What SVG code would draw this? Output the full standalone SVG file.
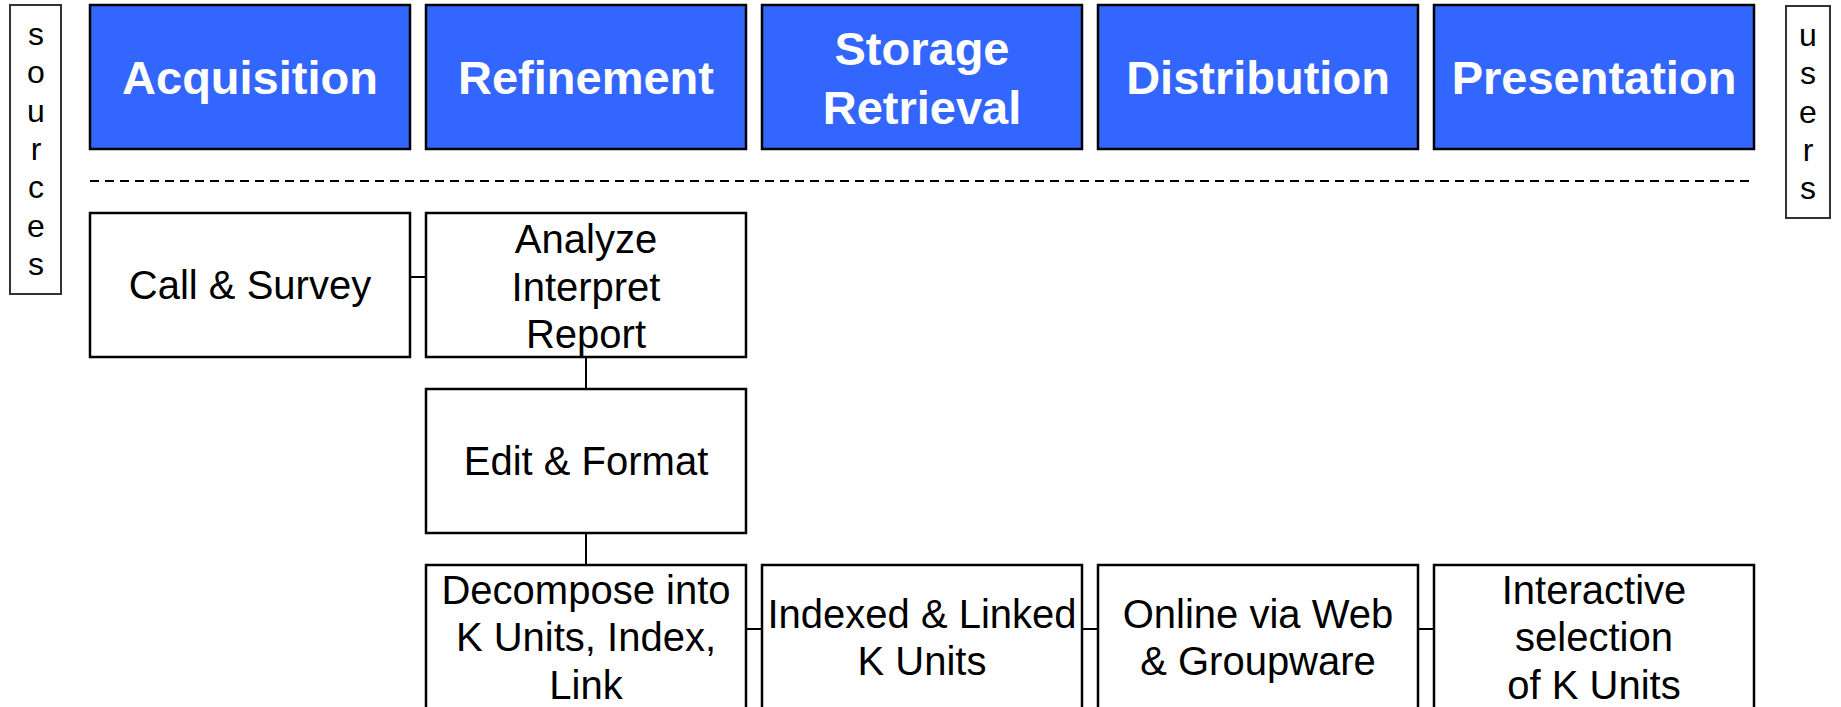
<svg xmlns="http://www.w3.org/2000/svg" width="1841" height="707" viewBox="0 0 1841 707">
<style>
.hdr{fill:#3366FF;stroke:#000;stroke-width:2.5}
.box{fill:#fff;stroke:#000;stroke-width:2.5}
.side{fill:#fff;stroke:#333;stroke-width:2}
.ht{font-family:"Liberation Sans",Arial,sans-serif;font-weight:bold;font-size:47px;fill:#fff;text-anchor:middle}
.bt{font-family:"Liberation Sans",Arial,sans-serif;font-size:40px;fill:#000;text-anchor:middle}
.st{font-family:"Liberation Sans",Arial,sans-serif;font-size:32px;fill:#000;text-anchor:middle}
.conn{stroke:#000;stroke-width:2;fill:none}
</style>
<rect width="1841" height="707" fill="#fff"/>
<g id="sources">
<rect class="side" x="10" y="5" width="51" height="289"/>
<text class="st"><tspan x="36" y="45">s</tspan><tspan x="36" y="83.3">o</tspan><tspan x="36" y="121.6">u</tspan><tspan x="36" y="159.9">r</tspan><tspan x="36" y="198.2">c</tspan><tspan x="36" y="236.5">e</tspan><tspan x="36" y="274.8">s</tspan></text>
</g>
<g id="users">
<rect class="side" x="1786" y="6" width="44" height="212"/>
<text class="st"><tspan x="1808" y="46">u</tspan><tspan x="1808" y="84.3">s</tspan><tspan x="1808" y="122.6">e</tspan><tspan x="1808" y="160.9">r</tspan><tspan x="1808" y="199.2">s</tspan></text>
</g>
<g id="acquisition">
<rect class="hdr" x="90" y="5" width="320" height="144"/>
<text class="ht" x="250" y="94">Acquisition</text>
</g>
<g id="refinement">
<rect class="hdr" x="426" y="5" width="320" height="144"/>
<text class="ht" x="586" y="94">Refinement</text>
</g>
<g id="storage">
<rect class="hdr" x="762" y="5" width="320" height="144"/>
<text class="ht"><tspan x="922" y="65">Storage</tspan><tspan x="922" y="124">Retrieval</tspan></text>
</g>
<g id="distribution">
<rect class="hdr" x="1098" y="5" width="320" height="144"/>
<text class="ht" x="1258" y="94">Distribution</text>
</g>
<g id="presentation">
<rect class="hdr" x="1434" y="5" width="320" height="144"/>
<text class="ht" x="1594" y="94">Presentation</text>
</g>
<line id="divider" x1="90" y1="181" x2="1754" y2="181" stroke="#000" stroke-width="2" stroke-dasharray="9,6"/>
<g id="connectors">
<line class="conn" x1="410" y1="277" x2="426" y2="277"/>
<line class="conn" x1="586" y1="357" x2="586" y2="389"/>
<line class="conn" x1="586" y1="533" x2="586" y2="565"/>
<line class="conn" x1="746" y1="629" x2="762" y2="629"/>
<line class="conn" x1="1082" y1="629" x2="1098" y2="629"/>
<line class="conn" x1="1418" y1="629" x2="1434" y2="629"/>
</g>
<g id="call-survey">
<rect class="box" x="90" y="213" width="320" height="144"/>
<text class="bt" x="250" y="299">Call &amp; Survey</text>
</g>
<g id="analyze">
<rect class="box" x="426" y="213" width="320" height="144"/>
<text class="bt"><tspan x="586" y="253">Analyze</tspan><tspan x="586" y="300.5">Interpret</tspan><tspan x="586" y="348">Report</tspan></text>
</g>
<g id="edit-format">
<rect class="box" x="426" y="389" width="320" height="144"/>
<text class="bt" x="586" y="475">Edit &amp; Format</text>
</g>
<g id="decompose">
<rect class="box" x="426" y="565" width="320" height="144"/>
<text class="bt"><tspan x="586" y="603.5">Decompose into</tspan><tspan x="586" y="651">K Units, Index,</tspan><tspan x="586" y="698.5">Link</tspan></text>
</g>
<g id="indexed">
<rect class="box" x="762" y="565" width="320" height="144"/>
<text class="bt"><tspan x="922" y="628">Indexed &amp; Linked</tspan><tspan x="922" y="675">K Units</tspan></text>
</g>
<g id="online">
<rect class="box" x="1098" y="565" width="320" height="144"/>
<text class="bt"><tspan x="1258" y="628">Online via Web</tspan><tspan x="1258" y="675">&amp; Groupware</tspan></text>
</g>
<g id="interactive">
<rect class="box" x="1434" y="565" width="320" height="144"/>
<text class="bt"><tspan x="1594" y="603.5">Interactive</tspan><tspan x="1594" y="651">selection</tspan><tspan x="1594" y="698.5">of K Units</tspan></text>
</g>
</svg>
